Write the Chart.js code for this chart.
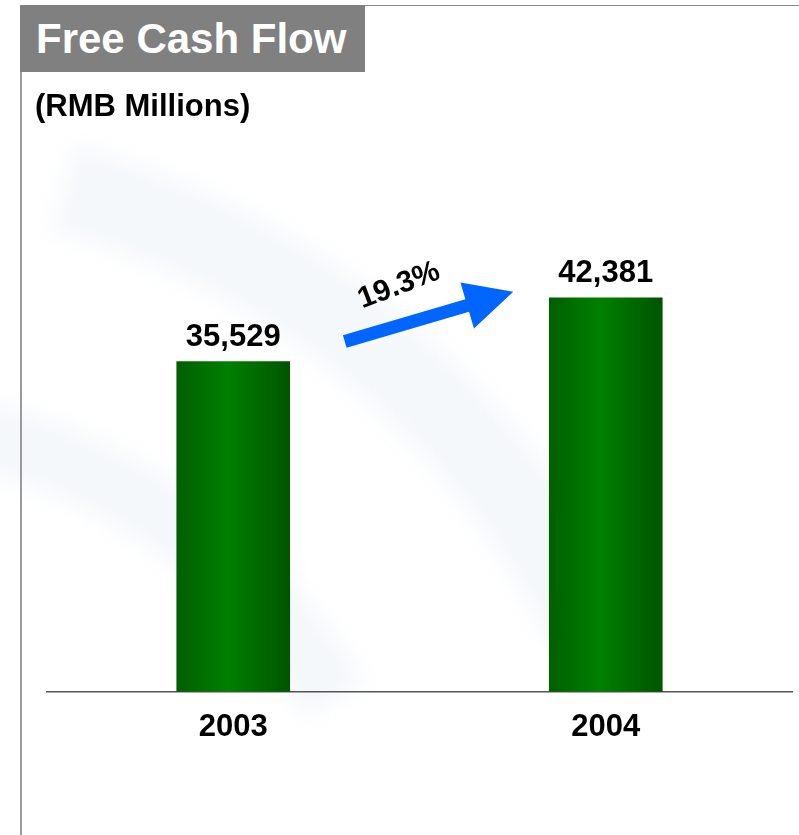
<!DOCTYPE html>
<html>
<head>
<meta charset="utf-8">
<title>Free Cash Flow</title>
<script src="https://cdn.jsdelivr.net/npm/chart.js@4.4.1/dist/chart.umd.min.js"></script>
<style>
  html, body { margin: 0; padding: 0; background: #fff; }
  #wrap { position: relative; width: 799px; height: 835px; overflow: hidden; font-family: "Liberation Sans", Arial, sans-serif; }
  #frame { position: absolute; left: 20px; top: 5px; right: -2px; bottom: -2px; border-left: 2px solid #9a9a9a; border-top: 1px solid #8a8a8a; }
  #title { position: absolute; left: 20px; top: 5px; width: 345px; height: 67px; background: #808080; color: #fff;
           font-weight: bold; font-size: 42px; line-height: 68px; padding-left: 16px; box-sizing: border-box; white-space: nowrap; }
  #unit { position: absolute; left: 35px; top: 88px; font-weight: bold; font-size: 31px; color: #000; white-space: nowrap; }
  canvas { position: absolute; left: 0; top: 0; }
</style>
</head>
<body>
<div id="wrap">
  <canvas id="fcf" width="799" height="835"></canvas>
  <div id="frame"></div>
  <div id="title">Free Cash Flow</div>
  <div id="unit">(RMB Millions)</div>
</div>
<script>
const years = ['2003', '2004'];
const freeCashFlow = [35529, 42381];
const growthLabel = '19.3%';

const green = { edge: '#005f00', mid: '#008000', dark: '#005400' };
const arrowBlue = '#0066ff';

function barGradient(context) {
  const chart = context.chart;
  const area = chart.chartArea;
  if (!area) return green.mid;
  const x = chart.scales.x.getPixelForValue(context.dataIndex);
  const half = 113 / 2;
  const g = chart.ctx.createLinearGradient(x - half, 0, x + half, 0);
  g.addColorStop(0, green.edge);
  g.addColorStop(0.45, green.mid);
  g.addColorStop(1, green.dark);
  return g;
}

// faint arcs of the slide's background logo
const backdrop = {
  id: 'backdrop',
  beforeDraw(chart) {
    const c = chart.ctx;
    c.save();
    c.filter = 'blur(10px)';
    c.strokeStyle = 'rgba(236, 241, 248, 0.5)';
    c.lineWidth = 90;
    c.beginPath();
    c.arc(-150, 980, 820, -Math.PI / 2.4, -Math.PI / 7);
    c.stroke();
    c.lineWidth = 70;
    c.beginPath();
    c.arc(-150, 980, 560, -Math.PI / 2.3, -Math.PI / 6);
    c.stroke();
    c.restore();
  }
};

// value labels above bars and the growth arrow between them
const annotations = {
  id: 'annotations',
  afterDatasetsDraw(chart) {
    const c = chart.ctx;
    const meta = chart.getDatasetMeta(0);
    c.save();
    c.fillStyle = '#000';
    c.font = 'bold 31px "Liberation Sans", Arial, sans-serif';
    c.textAlign = 'center';
    c.textBaseline = 'alphabetic';
    meta.data.forEach((bar, i) => {
      c.fillText(freeCashFlow[i].toLocaleString('en-US'), bar.x, bar.y - 16);
    });

    const b1 = meta.data[0], b2 = meta.data[1];
    const x0 = b1.x + b1.width / 2 + 55, y0 = b1.y - 20;
    const x1 = b2.x - b2.width / 2 - 36, y1 = b2.y - 6;
    const ang = Math.atan2(y1 - y0, x1 - x0);
    const len = Math.hypot(x1 - x0, y1 - y0);
    c.translate(x0, y0);
    c.rotate(ang);
    c.fillStyle = arrowBlue;
    c.beginPath();
    c.moveTo(0, -6.5);
    c.lineTo(len - 48, -6.5);
    c.lineTo(len - 48, -24);
    c.lineTo(len, 0);
    c.lineTo(len - 48, 24);
    c.lineTo(len - 48, 6.5);
    c.lineTo(0, 6.5);
    c.closePath();
    c.fill();
    c.fillStyle = '#000';
    c.font = 'bold 30px "Liberation Sans", Arial, sans-serif';
    c.textAlign = 'center';
    c.translate(len * 0.39, -30);
    c.rotate(-0.08);
    c.fillText(growthLabel, 0, 0);
    c.restore();
  }
};

new Chart(document.getElementById('fcf'), {
  type: 'bar',
  data: {
    labels: years,
    datasets: [{
      data: freeCashFlow,
      backgroundColor: barGradient,
      borderWidth: 0,
      barThickness: 113
    }]
  },
  options: {
    responsive: false,
    animation: false,
    layout: { padding: { left: 47, right: 7, top: 227, bottom: 72 } },
    plugins: { legend: { display: false }, tooltip: { enabled: false } },
    scales: {
      x: {
        grid: { display: false, drawTicks: false },
        border: { display: true, color: '#555', width: 1.5 },
        ticks: { color: '#000', padding: 17, font: { family: '"Liberation Sans", Arial, sans-serif', size: 31, weight: 'bold' } }
      },
      y: { display: false, min: 0, max: 50000 }
    }
  },
  plugins: [backdrop, annotations]
});
</script>
</body>
</html>
